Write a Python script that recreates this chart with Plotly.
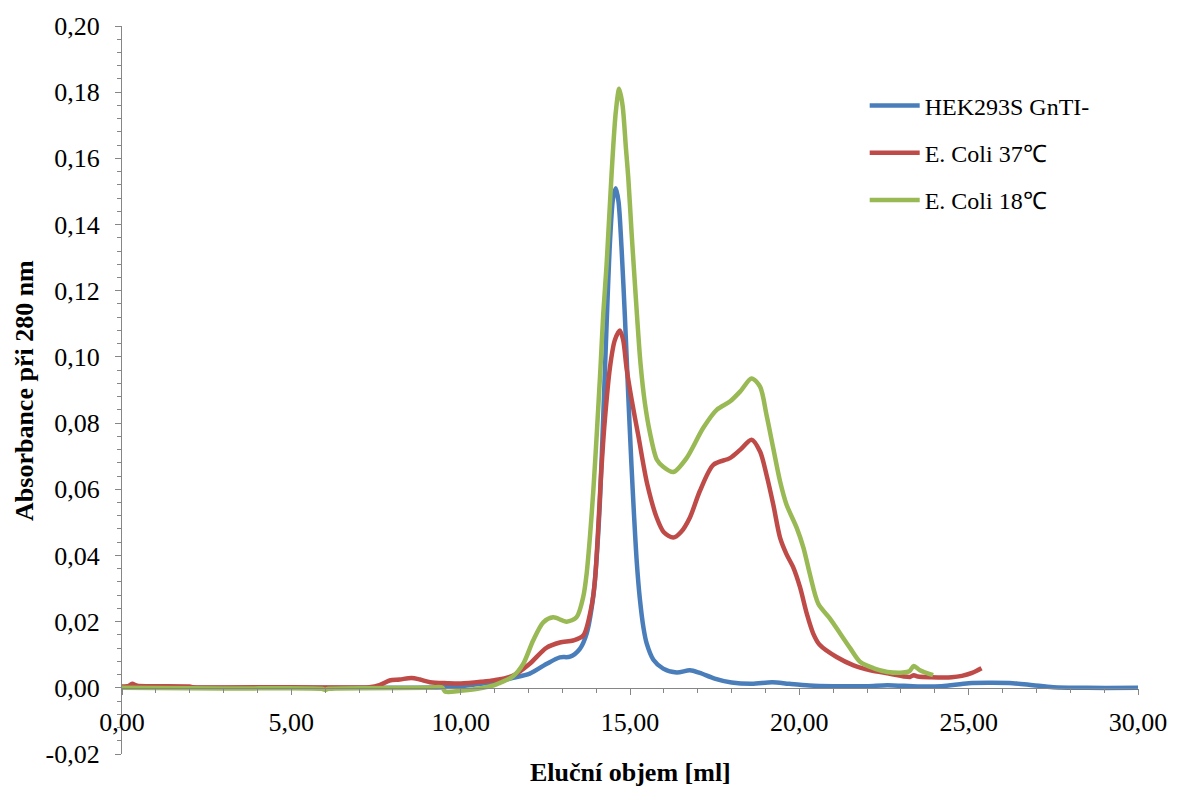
import plotly.graph_objects as go

# ---------------- data ----------------
hek_x = [0, 2, 5, 8, 9.5, 10.0, 10.6, 11.0, 11.55, 12.04, 12.53, 12.93, 13.23, 13.52, 13.72,
         13.92, 14.02, 14.11, 14.21, 14.31, 14.41, 14.50, 14.58, 14.66, 14.75, 14.85, 14.95,
         15.04, 15.12, 15.20, 15.29, 15.40, 15.49, 15.69, 15.98, 16.38, 16.77, 17.06, 17.5,
         18.0, 18.6, 19.2, 19.7, 20.3, 21.0, 22.0, 22.6, 23.5, 24.2, 25.0, 25.7, 26.3, 26.9,
         27.5, 28.5, 30.0]
hek_y = [0.0, 0.0, 0.0, 0.0, 0.0002, 0.0005, 0.0012, 0.0018, 0.0030, 0.0043, 0.0072, 0.0092,
         0.0094, 0.0118, 0.0164, 0.028, 0.040, 0.056, 0.082, 0.110, 0.135, 0.148, 0.151, 0.147,
         0.133, 0.112, 0.088, 0.068, 0.052, 0.038, 0.027, 0.018, 0.0135, 0.0085, 0.0058,
         0.0046, 0.0053, 0.0045, 0.0028, 0.0016, 0.0012, 0.0017, 0.0012, 0.0007, 0.0005,
         0.0005, 0.0008, 0.0004, 0.0005, 0.0014, 0.0015, 0.0014, 0.0008, 0.0002, 0.0, 0.0]

ec37_x = [0.0, 0.2, 0.3, 0.45, 1.0, 2.0, 2.1, 5.0, 7.3, 7.6, 7.9, 8.2, 8.55, 8.8, 9.1, 9.6,
          10.0, 10.6, 11.0, 11.55, 12.04, 12.53, 12.93, 13.32, 13.62, 13.87, 13.97, 14.06,
          14.15, 14.25, 14.41, 14.55, 14.70, 14.80, 14.90, 15.05, 15.24, 15.51, 15.79, 16.0,
          16.28, 16.5, 16.77, 17.06, 17.46, 17.95, 18.25, 18.59, 18.84, 19.03, 19.23, 19.43,
          19.62, 19.82, 20.02, 20.22, 20.41, 20.6, 21.1, 21.6, 22.1, 22.6, 23.27, 23.38,
          23.5, 23.9, 24.5, 24.8, 25.1, 25.38]
ec37_y = [0.0004, 0.0006, 0.0012, 0.0006, 0.0005, 0.0004, 0.0002, 0.0002, 0.0002, 0.0008,
          0.0022, 0.0025, 0.0030, 0.0025, 0.0017, 0.0014, 0.0013, 0.0018, 0.0023, 0.0037,
          0.0073, 0.0121, 0.0137, 0.0143, 0.0158, 0.025, 0.033, 0.048, 0.065, 0.080, 0.097,
          0.105, 0.108, 0.105, 0.0965, 0.087, 0.0765, 0.0615, 0.0514, 0.047, 0.0454, 0.047,
          0.0515, 0.0594, 0.0674, 0.0694, 0.0719, 0.0750, 0.0714, 0.0644, 0.0554, 0.0454,
          0.0404, 0.0364, 0.0304, 0.0224, 0.0164, 0.0130, 0.0093, 0.0068, 0.0053, 0.0044,
          0.0033, 0.0038, 0.0034, 0.0032, 0.0032, 0.0036, 0.0045, 0.0059]

ec18_x = [0.0, 3.0, 5.9, 6.0, 6.1, 9.0, 9.45, 9.55, 10.0, 10.5, 11.0, 11.16, 11.55, 11.85,
          12.14, 12.44, 12.73, 13.13, 13.42, 13.62, 13.72, 13.82, 13.92, 14.02, 14.13, 14.21,
          14.31, 14.46, 14.58, 14.68, 14.78, 14.88, 14.95, 15.05, 15.12, 15.21, 15.31, 15.44,
          15.59, 15.79, 15.98, 16.28, 16.67, 17.16, 17.56, 17.95, 18.25, 18.59, 18.84, 19.03,
          19.23, 19.43, 19.62, 19.92, 20.12, 20.31, 20.56, 20.90, 21.2, 21.5, 21.8, 22.2,
          22.6, 23.06, 23.25, 23.38, 23.56, 23.95]
ec18_y = [0.0, -0.0002, -0.0003, -0.0006, -0.0003, 0.0, 0.0001, -0.0012, -0.0009, -0.0003,
          0.0008, 0.0015, 0.0035, 0.0073, 0.0143, 0.0198, 0.0213, 0.0200, 0.0213, 0.0275,
          0.0345, 0.046, 0.060, 0.077, 0.097, 0.113, 0.128, 0.156, 0.174, 0.181, 0.176, 0.163,
          0.154, 0.137, 0.126, 0.112, 0.098, 0.086, 0.077, 0.0690, 0.0668, 0.0652, 0.0694,
          0.0785, 0.0840, 0.0865, 0.0895, 0.0935, 0.0910, 0.0825, 0.0724, 0.0624, 0.0554,
          0.0484, 0.0424, 0.0344, 0.0254, 0.0210, 0.0165, 0.0120, 0.0078, 0.0059, 0.0048,
          0.0046, 0.0050, 0.0066, 0.0053, 0.0038]

series_names = ["HEK293S GnTI-", "E. Coli 37\u2103", "E. Coli 18\u2103"]

x_tickvals = [0, 5, 10, 15, 20, 25, 30]
x_ticktext = ["0,00", "5,00", "10,00", "15,00", "20,00", "25,00", "30,00"]
y_tickvals = [-0.02, 0.0, 0.02, 0.04, 0.06, 0.08, 0.10, 0.12, 0.14, 0.16, 0.18, 0.20]
y_ticktext = ["-0,02", "0,00", "0,02", "0,04", "0,06", "0,08", "0,10", "0,12", "0,14",
              "0,16", "0,18", "0,20"]

x_title = "Eluční objem [ml]"
y_title = "Absorbance při 280 nm"

# ---------------- figure ----------------
colors = ["#4A7EBB", "#BE4B48", "#98B954"]
FONT = "Liberation Serif, Times New Roman, serif"

fig = go.Figure()
for i, (xs, ys) in enumerate([(hek_x, hek_y), (ec37_x, ec37_y), (ec18_x, ec18_y)]):
    fig.add_trace(go.Scatter(
        x=xs, y=ys, mode="lines", name=series_names[i], legendgroup=f"g{i}",
        line=dict(color=colors[i], width=4.5, shape="spline", smoothing=0.8),
    ))

ymin, ymax = -0.02, 0.20
x_axis_pos = (0 - ymin) / (ymax - ymin)

minor_y = [round(ymin + k * 0.004, 4) for k in range(int(round((ymax - ymin) / 0.004)) + 1)]
minor_x = list(range(0, 31))

fig.update_layout(
    width=1179, height=789,
    margin=dict(l=122, r=41, t=22, b=35),
    paper_bgcolor="white", plot_bgcolor="white",
    font=dict(family=FONT, size=24, color="black"),
    showlegend=True,
    legend=dict(
        x=0.731, y=0.921, xanchor="left", yanchor="top",
        font=dict(family=FONT, size=24, color="black"),
        tracegroupgap=13, itemwidth=50, bgcolor="rgba(0,0,0,0)",
    ),
    xaxis=dict(
        range=[0, 30], showgrid=False, zeroline=False,
        showline=True, linecolor="#868686", linewidth=1.3,
        anchor="free", position=x_axis_pos,
        tickmode="array", tickvals=x_tickvals, ticktext=x_ticktext,
        ticks="outside", ticklen=6, tickcolor="#868686", tickwidth=1.3,
        ticklabelstandoff=5,
        tickfont=dict(family=FONT, size=26, color="black"),
        minor=dict(tickvals=minor_x, ticks="outside", ticklen=4,
                   tickcolor="#868686", tickwidth=1.3),
    ),
    yaxis=dict(
        range=[ymin, ymax], showgrid=False, zeroline=False,
        showline=True, linecolor="#868686", linewidth=1.3,
        tickmode="array", tickvals=y_tickvals, ticktext=y_ticktext,
        ticks="outside", ticklen=6, tickcolor="#868686", tickwidth=1.3,
        ticklabelstandoff=10,
        tickfont=dict(family=FONT, size=26, color="black"),
        minor=dict(tickvals=minor_y, ticks="outside", ticklen=4,
                   tickcolor="#868686", tickwidth=1.3),
    ),
    annotations=[
        dict(text=f"<b>{x_title}</b>", xref="paper", yref="paper", x=0.5, y=-0.026,
             xanchor="center", yanchor="middle", showarrow=False,
             font=dict(family=FONT, size=26, color="black")),
        dict(text=f"<b>{y_title}</b>", xref="paper", yref="paper", x=-0.0965, y=0.5,
             xanchor="center", yanchor="middle", textangle=-90, showarrow=False,
             font=dict(family=FONT, size=26, color="black")),
    ],
)

fig.write_html(
    "out.html",
    config={"displayModeBar": False},
    post_script="document.body.style.margin='0';document.body.style.overflow='hidden';",
)
